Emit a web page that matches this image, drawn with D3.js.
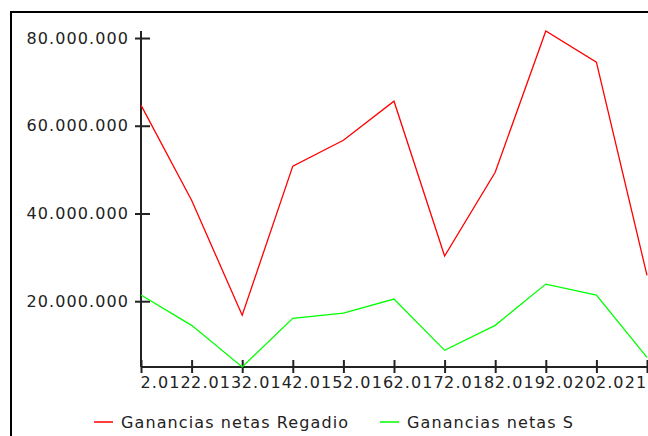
<!DOCTYPE html>
<html>
<head>
<meta charset="utf-8">
<script src="https://cdn.jsdelivr.net/npm/d3@7"></script>
<style>
  body { margin: 0; background: #fff; }
  text { font-family: "DejaVu Sans", Verdana, sans-serif; font-size: 16px; letter-spacing: 1.1px; fill: #222; }
</style>
</head>
<body>
<div id="chart"></div>
<script>
var years = [2012, 2013, 2014, 2015, 2016, 2017, 2018, 2019, 2020, 2021, 2022];
var regadio = [64700000, 43000000, 16800000, 50800000, 56700000, 65600000, 30300000, 49400000, 81600000, 74500000, 25900000];
var secano = [21400000, 14500000, 5000000, 16100000, 17300000, 20500000, 8800000, 14500000, 23900000, 21400000, 7200000];
var yTicks = [20000000, 40000000, 60000000, 80000000];
var seriesNames = ['Ganancias netas Regadio', 'Ganancias netas S'];
var seriesColors = ['#ff0000', '#00ff00'];

var width = 648, height = 436;

var svg = d3.select('#chart').append('svg')
  .attr('width', width)
  .attr('height', height);

// frame
svg.append('rect')
  .attr('x', 11).attr('y', 12)
  .attr('width', 700).attr('height', 500)
  .attr('fill', 'none')
  .attr('stroke', '#000')
  .attr('stroke-width', 2);

var x = d3.scaleLinear().domain([2012, 2022]).range([141, 647]);
var all = regadio.concat(secano);
var y = d3.scaleLinear().domain(d3.extent(all)).range([367, 31]);

function fmt(v) {
  return d3.format(',')(v).replace(/,/g, '.');
}

var yAxis = svg.append('g')
  .attr('transform', 'translate(141,0)')
  .call(d3.axisLeft(y).tickValues(yTicks).tickSize(6).tickPadding(8).tickFormat(fmt));
yAxis.select('.domain').attr('d', 'M0,' + y.range()[1] + 'V' + y.range()[0])
  .attr('stroke', '#222').attr('stroke-width', 2);
yAxis.selectAll('.tick line').attr('x1', 9).attr('x2', -6).attr('stroke', '#222').attr('stroke-width', 2);
yAxis.selectAll('.tick text').attr('x', -12);

// the label of the last year falls outside the window in the original, so it is left out
var xAxis = svg.append('g')
  .attr('transform', 'translate(0,367)')
  .call(d3.axisBottom(x).tickValues(years).tickSize(6).tickFormat(function(d) {
    return d === years[years.length - 1] ? '' : fmt(d);
  }));
xAxis.select('.domain').attr('d', 'M' + x.range()[0] + ',0H' + x.range()[1])
  .attr('stroke', '#222').attr('stroke-width', 2);
xAxis.selectAll('.tick line').attr('y1', -7).attr('y2', 6).attr('stroke', '#222').attr('stroke-width', 2);
xAxis.selectAll('.tick text')
  .attr('text-anchor', 'start')
  .attr('x', -1)
  .attr('y', 10)
  .attr('dy', '0.71em');

var line = d3.line()
  .x(function(d, i) { return x(years[i]); })
  .y(function(d) { return y(d); });

[regadio, secano].forEach(function(s, k) {
  svg.append('path')
    .datum(s)
    .attr('fill', 'none')
    .attr('stroke', seriesColors[k])
    .attr('stroke-width', 1.3)
    .attr('d', line);
});

// legend
var legendX = [94, 380];
seriesNames.forEach(function(name, k) {
  var g = svg.append('g').attr('transform', 'translate(' + legendX[k] + ',422)');
  g.append('line')
    .attr('x1', 0).attr('x2', 19)
    .attr('stroke', seriesColors[k]).attr('stroke-width', 1.5);
  g.append('text')
    .attr('x', 27).attr('dy', '0.35em')
    .text(name);
});
</script>
</body>
</html>
